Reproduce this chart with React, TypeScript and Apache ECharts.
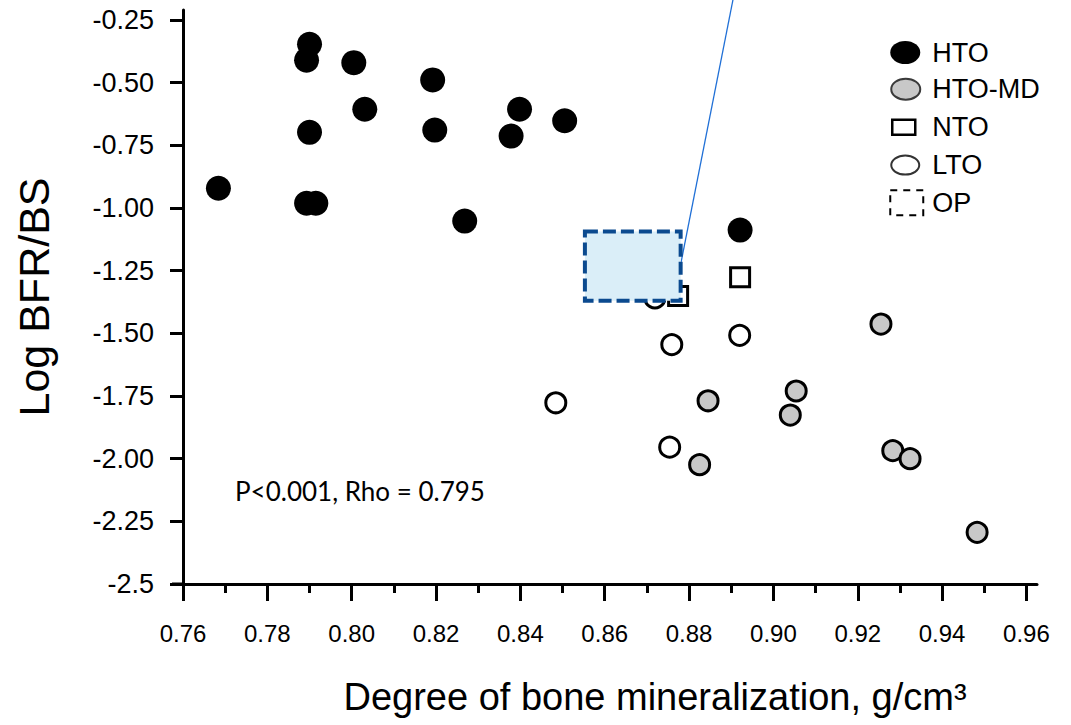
import React, { useEffect, useRef } from "react";
import * as echarts from "echarts";

// Degree of bone mineralization (g/cm³) vs. log bone formation rate per bone surface
const htoPoints: number[][] = [
  [0.7684, -0.921], [0.790, -0.347], [0.7893, -0.410], [0.8005, -0.420],
  [0.8192, -0.489], [0.8031, -0.606], [0.790, -0.698], [0.8197, -0.689],
  [0.8398, -0.606], [0.8378, -0.713], [0.8505, -0.652], [0.7893, -0.981],
  [0.7915, -0.981], [0.8268, -1.052], [0.8921, -1.088],
];
const htoMdPoints: number[][] = [
  [0.9255, -1.463], [0.9054, -1.730], [0.9040, -1.826], [0.8845, -1.769],
  [0.8825, -2.024], [0.9283, -1.968], [0.9324, -2.000], [0.9483, -2.294],
];
const ntoPoints: number[][] = [[0.8921, -1.276], [0.8774, -1.351]];
const ltoPoints: number[][] = [
  [0.8484, -1.777], [0.8759, -1.545], [0.8920, -1.508], [0.8754, -1.954], [0.8719, -1.359],
];
// OP box: x from, y top, x to, y bottom
const opBox: number[][] = [[0.8553, -1.094, 0.8780, -1.370]];
// leader line running from the OP box up past the plot
const leaderLine: number[][] = [[0.8780, -1.225], [0.8904, -0.170]];

const yTicks = [-2.5, -2.25, -2.0, -1.75, -1.5, -1.25, -1.0, -0.75, -0.5, -0.25];
const xMajorTicks = [0.76, 0.78, 0.8, 0.82, 0.84, 0.86, 0.88, 0.9, 0.92, 0.94, 0.96];
const xMinorTicks = [0.77, 0.79, 0.81, 0.83, 0.85, 0.87, 0.89, 0.91, 0.93, 0.95];

const FONT = "'Liberation Sans', Arial, sans-serif";

// legend icons drawn in a 35x27 box (first two moves pin the box bounds)
const BOX = "M0,0 M35,27 ";
const iconHto = "path://" + BOX + "M1,13.5 A15,11.5 0 1,1 31,13.5 A15,11.5 0 1,1 1,13.5 Z";
const iconHtoMd = "path://" + BOX + "M2,13.5 A14.5,10.5 0 1,1 31,13.5 A14.5,10.5 0 1,1 2,13.5 Z";
const iconNto = "path://" + BOX + "M3,6 L26,6 L26,21 L3,21 Z";
const iconLto = "path://" + BOX + "M2,13.5 A14,9.5 0 1,1 30,13.5 A14,9.5 0 1,1 2,13.5 Z";
const iconOp = "path://" + BOX + "M1,1 L34,1 L34,26 L1,26 Z";

export default function App() {
  const ref = useRef<HTMLDivElement>(null);

  useEffect(() => {
    if (!ref.current) return;
    const chart = echarts.init(ref.current, null, { renderer: "svg" });

    const option: any = {
      animation: false,
      backgroundColor: "#ffffff",
      grid: { left: 183, right: 34, top: 10, bottom: 141, containLabel: false },
      xAxis: [
        {
          type: "value",
          min: 0.76,
          max: 0.9625,
          position: "bottom",
          axisLine: { show: true, onZero: false, lineStyle: { color: "#000", width: 3 } },
          axisTick: { show: true, customValues: xMajorTicks, length: 17, lineStyle: { color: "#000", width: 3 } },
          axisLabel: {
            customValues: xMajorTicks,
            formatter: (v: number) => v.toFixed(2),
            fontSize: 24,
            fontFamily: FONT,
            color: "#000",
            margin: 37,
          },
          splitLine: { show: false },
        },
        {
          type: "value",
          min: 0.76,
          max: 0.9625,
          position: "bottom",
          axisLine: { show: false },
          axisTick: { show: true, customValues: xMinorTicks, length: 9, lineStyle: { color: "#000", width: 3 } },
          axisLabel: { show: false },
          splitLine: { show: false },
        },
      ],
      yAxis: {
        type: "value",
        min: -2.5,
        max: -0.21,
        axisLine: { show: true, onZero: false, lineStyle: { color: "#000", width: 3 } },
        axisTick: { show: true, customValues: yTicks, length: 13, lineStyle: { color: "#000", width: 3 } },
        axisLabel: {
          customValues: yTicks,
          formatter: (v: number) => (v === -2.5 ? "-2.5" : v.toFixed(2)),
          fontSize: 27,
          fontFamily: FONT,
          color: "#000",
          margin: 29,
        },
        splitLine: { show: false },
        name: "Log BFR/BS",
        nameLocation: "middle",
        nameGap: 128,
        nameTextStyle: { fontSize: 43, fontFamily: FONT, color: "#000" },
      },
      legend: {
        orient: "vertical",
        left: 883,
        top: 34,
        itemWidth: 35,
        itemHeight: 27,
        itemGap: 8.7,
        selectedMode: false,
        textStyle: { fontSize: 27, fontFamily: FONT, color: "#000", padding: [0, 0, 0, 3] },
        data: [
          { name: "HTO", icon: iconHto, itemStyle: { color: "#000", borderWidth: 0 } },
          { name: "HTO-MD", icon: iconHtoMd, itemStyle: { color: "#C8C8C8", borderColor: "#3a3a3a", borderWidth: 2 } },
          { name: "NTO", icon: iconNto, itemStyle: { color: "#fff", borderColor: "#000", borderWidth: 2.5 } },
          { name: "LTO", icon: iconLto, itemStyle: { color: "#fff", borderColor: "#333", borderWidth: 2 } },
          { name: "OP", icon: iconOp, itemStyle: { color: "#fff", borderColor: "#000", borderWidth: 2, borderType: [7, 6] } },
        ],
      },
      series: [
        {
          name: "leader",
          type: "line",
          data: leaderLine,
          symbol: "none",
          clip: false,
          silent: true,
          z: 1,
          lineStyle: { color: "#1F6FD6", width: 1.3 },
        },
        {
          name: "HTO",
          type: "scatter",
          data: htoPoints,
          symbol: "circle",
          symbolSize: 25,
          z: 3,
          itemStyle: { color: "#000", opacity: 1 },
        },
        {
          name: "HTO-MD",
          type: "scatter",
          data: htoMdPoints,
          symbol: "circle",
          symbolSize: 20,
          z: 3,
          itemStyle: { color: "#C8C8C8", borderColor: "#000", borderWidth: 3, opacity: 1 },
        },
        {
          name: "NTO",
          type: "scatter",
          data: ntoPoints,
          symbol: "rect",
          symbolSize: 19,
          z: 3,
          itemStyle: { color: "#fff", borderColor: "#000", borderWidth: 3, opacity: 1 },
        },
        {
          name: "LTO",
          type: "scatter",
          data: ltoPoints,
          symbol: "circle",
          symbolSize: 20,
          z: 3,
          itemStyle: { color: "#fff", borderColor: "#000", borderWidth: 3, opacity: 1 },
        },
        {
          name: "OP",
          type: "custom",
          data: opBox,
          z: 5,
          encode: { x: [0, 2], y: [1, 3] },
          renderItem: (_params: any, api: any) => {
            const p0 = api.coord([api.value(0), api.value(1)]);
            const p1 = api.coord([api.value(2), api.value(3)]);
            return {
              type: "rect",
              shape: { x: p0[0], y: p0[1], width: p1[0] - p0[0], height: p1[1] - p0[1] },
              style: { fill: "#DAEEF8", stroke: "#0B4A8F", lineWidth: 4, lineDash: [13, 5] },
            };
          },
        },
      ],
      graphic: [
        {
          type: "line",
          shape: { x1: 172, y1: 584, x2: 184, y2: 584 },
          style: { stroke: "#000", lineWidth: 3 },
        },
        {
          type: "text",
          left: 235,
          top: 478,
          style: {
            text: "P<0.001, Rho = 0.795",
            fontSize: 26,
            fontFamily: "Lato, 'Open Sans', sans-serif",
            fill: "#000",
          },
        },
        {
          type: "text",
          x: 655,
          y: 697,
          style: {
            text: "Degree of bone mineralization, g/cm³",
            fontSize: 38,
            fontFamily: FONT,
            fill: "#000",
            align: "center",
            verticalAlign: "middle",
          },
        },
      ],
    };

    chart.setOption(option);
    return () => chart.dispose();
  }, []);

  return (
    <div
      ref={ref}
      style={{ position: "fixed", left: 0, top: 0, width: 1071, height: 725, background: "#fff" }}
    />
  );
}
